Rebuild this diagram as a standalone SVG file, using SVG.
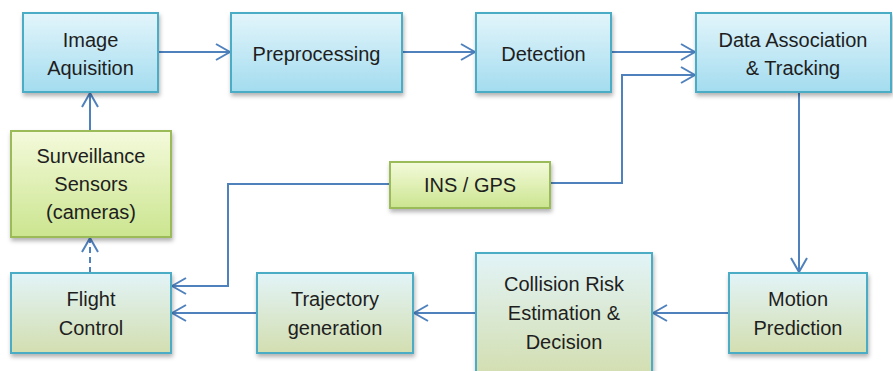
<svg xmlns="http://www.w3.org/2000/svg" width="893" height="371" viewBox="0 0 893 371">
<defs>
<linearGradient id="gBlue" x1="0" y1="0" x2="0" y2="1">
<stop offset="0" stop-color="#e3f5fb"/>
<stop offset="1" stop-color="#a3dcef"/>
</linearGradient>
<linearGradient id="gGreen" x1="0" y1="0" x2="0" y2="1">
<stop offset="0" stop-color="#f4fadb"/>
<stop offset="1" stop-color="#cbe58f"/>
</linearGradient>
<linearGradient id="gMix" x1="0" y1="0" x2="0" y2="1">
<stop offset="0" stop-color="#e2f4f8"/>
<stop offset="1" stop-color="#d3deb0"/>
</linearGradient>
<filter id="sh" x="-10%" y="-10%" width="125%" height="130%">
<feDropShadow dx="1" dy="3" stdDeviation="2" flood-color="#000" flood-opacity="0.3"/>
</filter>
<marker id="arr" viewBox="0 0 16 18" refX="15" refY="9" markerWidth="16" markerHeight="18" markerUnits="userSpaceOnUse" orient="auto">
<path d="M1,1 L15,9 L1,17" fill="none" stroke="#4f81bd" stroke-width="2"/>
</marker>
</defs>
<style>
.bb{fill:url(#gBlue);stroke:#4bacc6;stroke-width:2;filter:url(#sh)}
.gb{fill:url(#gGreen);stroke:#9bbb59;stroke-width:2;filter:url(#sh)}
.mb{fill:url(#gMix);stroke:#4bacc6;stroke-width:2;filter:url(#sh)}
text{font-family:"Liberation Sans",Arial,sans-serif;font-size:20px;fill:#1e1e1e;text-anchor:middle}
.c{fill:none;stroke:#4f81bd;stroke-width:2;marker-end:url(#arr)}
</style>
<rect width="893" height="371" fill="#fff"/>
<g id="connectors">
<path class="c" d="M158,52 H230"/>
<path class="c" d="M402,52 H475"/>
<path class="c" d="M611,52 H695"/>
<path class="c" d="M550,183 H622 V75 H695"/>
<path class="c" d="M799,92 V272"/>
<path class="c" d="M729,313 H653"/>
<path class="c" d="M476,313 H414"/>
<path class="c" d="M257,313 H172"/>
<path class="c" d="M390,184 H228 V286 H172"/>
<path class="c" d="M90,131 V93"/>
<path class="c" d="M90,273 V238" stroke-dasharray="6,4"/>
</g>
<g id="image-aquisition"><rect class="bb" x="23" y="13" width="135" height="79"/><text x="90.5" y="47">Image</text><text x="90.5" y="75">Aquisition</text></g>
<g id="preprocessing"><rect class="bb" x="231" y="13" width="171" height="79"/><text x="316.5" y="61">Preprocessing</text></g>
<g id="detection"><rect class="bb" x="476" y="13" width="135" height="79"/><text x="543.5" y="61">Detection</text></g>
<g id="data-association"><rect class="bb" x="696" y="13" width="195" height="79"/><text x="793" y="47">Data Association</text><text x="793" y="75">&amp; Tracking</text></g>
<g id="surveillance-sensors"><rect class="gb" x="11" y="131" width="160" height="106"/><text x="91" y="163">Surveillance</text><text x="91" y="191">Sensors</text><text x="91" y="219">(cameras)</text></g>
<g id="ins-gps"><rect class="gb" x="390" y="162" width="160" height="46"/><text x="470" y="192">INS / GPS</text></g>
<g id="flight-control"><rect class="mb" x="11" y="273" width="160" height="80"/><text x="91" y="306">Flight</text><text x="91" y="335">Control</text></g>
<g id="trajectory-generation"><rect class="mb" x="257" y="273" width="156" height="80"/><text x="335" y="306">Trajectory</text><text x="335" y="335">generation</text></g>
<g id="collision-risk"><rect class="mb" x="476" y="253" width="176" height="122"/><text x="564" y="291">Collision Risk</text><text x="564" y="320">Estimation &amp;</text><text x="564" y="349">Decision</text></g>
<g id="motion-prediction"><rect class="mb" x="729" y="273" width="138" height="80"/><text x="798" y="306">Motion</text><text x="798" y="335">Prediction</text></g>
</svg>
